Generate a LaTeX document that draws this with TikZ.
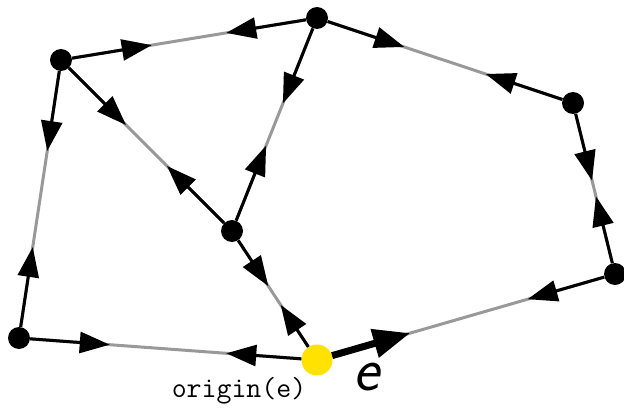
\documentclass[tikz,border=0pt]{standalone}
\usepackage{tikz}
\usetikzlibrary{arrows.meta,calc}
\definecolor{twingray}{gray}{0.6}
\definecolor{origyellow}{RGB}{255,226,0}
\tikzset{
  vtx/.style={circle, fill=black, inner sep=0pt, minimum size=22pt},
  origvtx/.style={circle, fill=origyellow, inner sep=0pt, minimum size=31pt},
  twin/.style={twingray, line width=3pt},
  half/.style={black, line width=3pt, -{Triangle[length=30pt,width=21pt]}},
  halfbig/.style={black, line width=7pt, -{Triangle[length=37pt,width=28pt]}},
}
\newcommand{\halfedge}[3]{\draw[half] (#1) -- ($(#1)!#3!(#2)$);}

\begin{document}
\begin{tikzpicture}[x=1pt, y=-1pt]
  \useasboundingbox (0,0) rectangle (624,409);
  % Vertices
  \node[vtx] (a) at (61,60) {};
  \node[vtx] (b) at (317,18) {};
  \node[vtx] (c) at (573,103) {};
  \node[vtx] (d) at (615,274) {};
  \node[vtx] (f) at (19,338) {};
  \node[vtx] (g) at (232,231) {};
  \node[origvtx] (e0) at (317,360) {};
  % Edges (twin pairs)
  \foreach \u/\v in {a/b, b/c, c/d, d/e0, e0/f, f/a, a/g, b/g, g/e0}
    \draw[twin] (\u) -- (\v);
  \halfedge{a}{b}{92pt}
  \halfedge{b}{a}{92pt}
  \halfedge{b}{c}{92pt}
  \halfedge{c}{b}{92pt}
  \halfedge{c}{d}{80pt}
  \halfedge{d}{c}{80pt}
  \halfedge{d}{e0}{91pt}
  \halfedge{e0}{f}{91pt}
  \halfedge{f}{e0}{91pt}
  \halfedge{f}{a}{92pt}
  \halfedge{a}{f}{92pt}
  \halfedge{a}{g}{92pt}
  \halfedge{g}{a}{92pt}
  \halfedge{b}{g}{92pt}
  \halfedge{g}{b}{92pt}
  \halfedge{g}{e0}{66pt}
  \halfedge{e0}{g}{66pt}
  % The half-edge e
  \draw[halfbig] (e0) -- ($(e0)!97pt!(d)$);
  % Labels
  \node (orglabel) at (239,391) {\fontsize{29}{31}\selectfont\texttt{origin(e)}};
  \node (elabel) at (366,377) {\fontsize{62}{64}\selectfont\sffamily\itshape e};
\end{tikzpicture}
\end{document}
